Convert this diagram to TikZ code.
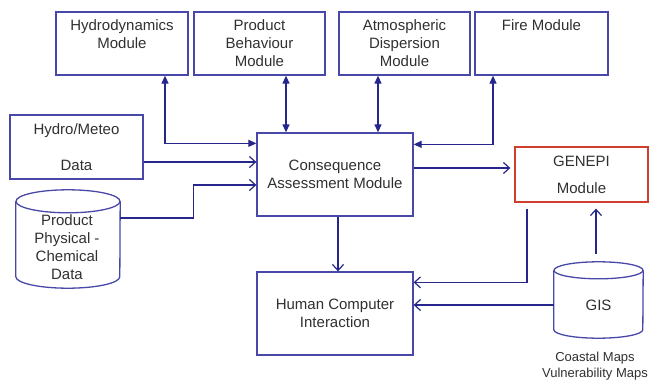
\documentclass[tikz,border=0pt]{standalone}
\usepackage{fontspec}
\setmainfont{Liberation Sans}
\usepackage{xcolor}
\usetikzlibrary{arrows.meta, positioning}
\definecolor{boxblue}{RGB}{72,72,168}
\definecolor{linkblue}{RGB}{38,38,140}
\definecolor{genred}{RGB}{208,62,46}
\definecolor{txtgray}{RGB}{48,48,48}

\begin{document}
\begin{tikzpicture}[x=1pt, y=-1pt,
  box/.style={draw=boxblue, line width=1.3pt, rectangle, align=center, text=txtgray,
    inner sep=0pt, font=\fontsize{15}{18}\selectfont},
  store/.style={rectangle, inner sep=0pt},
  storeline/.style={draw=boxblue, line width=1.3pt},
  storetext/.style={align=center, text=txtgray, inner sep=0pt, font=\fontsize{15}{18}\selectfont},
  twoway/.style={draw=linkblue, line width=1.2pt, {Triangle[length=8pt,width=7pt]}-{Triangle[length=8pt,width=7pt]}},
  feed/.style={draw=linkblue, line width=1.2pt, -{Straight Barb[length=6pt,width=11pt]}}]

\useasboundingbox (0,0) rectangle (651,380);

% Top row of modules
\node (hyd) [box, minimum width=132, minimum height=63] at (122,43.5) {Hydrodynamics\\Module\\\mbox{}};
\node (pb) [box, minimum width=131, minimum height=63] at (259.5,43.5) {Product\\Behaviour\\Module};
\node (atm) [box, minimum width=131, minimum height=63] at (404.5,43.5) {Atmospheric\\Dispersion\\Module};
\node (fire) [box, minimum width=133, minimum height=63] at (541.5,43.5) {Fire Module\\\mbox{}\\\mbox{}};

% Inputs
\node (met) [box, minimum width=133, minimum height=64] at (76.5,147) {Hydro/Meteo\\[18pt]Data};
\node (pcd) [store, minimum width=104, minimum height=98] at (68,239) {};
\draw[storeline] ([yshift=-11.5pt]pcd.north) ellipse [x radius=52pt, y radius=11.5pt];
\draw[storeline] ([yshift=-11.5pt]pcd.north west) -- ([yshift=11.5pt]pcd.south west)
  arc[start angle=180, end angle=360, x radius=52pt, y radius=11.5pt] -- ([yshift=-11.5pt]pcd.north east);
\node (pcdtext) [storetext] at (67,247.5) {Product\\Physical -\\Chemical\\Data};

% Core
\node (cons) [box, minimum width=156, minimum height=83] at (335,174.5) {Consequence\\Assessment Module};
\node (genepi) [box, draw=genred, minimum width=133, minimum height=55] at (581.5,174.5) {GENEPI\\[9pt]Module};
\node (hci) [box, minimum width=156, minimum height=83] at (335,313.5) {Human Computer\\Interaction};

% GIS store
\node (gis) [store, minimum width=89, minimum height=76] at (598.5,300) {};
\draw[storeline] ([yshift=-8.5pt]gis.north) ellipse [x radius=44.5pt, y radius=8.5pt];
\draw[storeline] ([yshift=-8.5pt]gis.north west) -- ([yshift=8.5pt]gis.south west)
  arc[start angle=180, end angle=360, x radius=44.5pt, y radius=8.5pt] -- ([yshift=-8.5pt]gis.north east);
\node (gistext) [storetext] at (598.5,305) {GIS};
\node (gismaps) [below=14pt of gis, xshift=-3.5pt, align=center, text=txtgray, inner sep=0pt,
  font=\fontsize{13}{15.5}\selectfont] {Coastal Maps\\Vulnerability Maps};

% Two-way links
\draw[twoway] ([xshift=43pt]hyd.south) |- ([yshift=-11pt]cons.north west);
\draw[twoway] ([xshift=26.5pt]pb.south) -- ([xshift=-49pt]cons.north);
\draw[twoway] ([xshift=-26.5pt]atm.south) -- ([xshift=43pt]cons.north);
\draw[twoway] ([xshift=-48.5pt]fire.south) |- ([yshift=-12pt]cons.north east);

% Data flow
\draw[feed] ([yshift=-15pt]met.east) -- ([yshift=12.5pt]cons.west);
\draw[feed] ([yshift=21pt]pcd.east) -- ++(73,0) |- ([yshift=-10.5pt]cons.west);
\draw[feed, shorten >=4pt] ([yshift=6.5pt]cons.east) -- ([yshift=6.5pt]genepi.west);
\draw[feed] ([xshift=3pt]cons.south) -- ([xshift=3pt]hci.north);
\draw[feed, shorten <=6pt] ([xshift=-54.5pt]genepi.south) |- ([yshift=-11pt]hci.north east);
\draw[feed] ([yshift=-5pt]gis.west) -- ([yshift=8.5pt]hci.east);
\draw[feed, shorten <=8pt, shorten >=6pt] ([xshift=-2.5pt]gis.north) -- ([xshift=14.5pt]genepi.south);
\end{tikzpicture}
\end{document}
